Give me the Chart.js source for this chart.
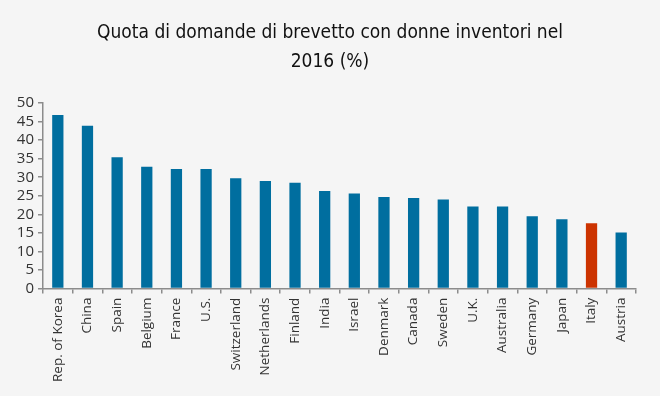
<!DOCTYPE html>
<html><head><meta charset="utf-8">
<script src="https://cdn.jsdelivr.net/npm/chart.js@4/dist/chart.umd.min.js"></script>
<style>html,body{margin:0;padding:0;background:#f5f5f5;}#wrap{width:660px;height:396px;}</style>
</head><body><div id="wrap"><canvas id="c" width="660" height="396"></canvas></div>
<script>
const titleLines = ["Quota di domande di brevetto con donne inventori nel", "2016 (%)"];
const categories = ["Rep. of Korea","China","Spain","Belgium","France","U.S.","Switzerland","Netherlands","Finland","India","Israel","Denmark","Canada","Sweden","U.K.","Australia","Germany","Japan","Italy","Austria"];
const values = [46.8,43.9,35.4,32.8,32.2,32.2,29.7,29.0,28.5,26.3,25.6,24.7,24.4,24.0,22.1,22.1,19.5,18.7,17.6,15.1];
const highlight = "Italy";
const yTicks = [0,5,10,15,20,25,30,35,40,45,50];

const blue = "#006e9f", red = "#cc3300";
const centerTitle = {
  id: 'centerTitle',
  afterLayout(chart) {
    const t = chart.titleBlock;
    if (t) { t.left = 24; t.right = 636; }
  }
};
new Chart(document.getElementById('c'), {
  type: 'bar',
  data: { labels: categories, datasets: [{ data: values,
    backgroundColor: categories.map(c => c === highlight ? red : blue),
    barPercentage: 0.38, categoryPercentage: 1.0 }] },
  plugins: [centerTitle],
  options: {
    responsive: false, animation: false,
    layout: { padding: { left: 2, right: 24, top: 0, bottom: 10 } },
    plugins: {
      legend: { display: false }, tooltip: { enabled: false },
      title: { display: true, text: titleLines, color: '#111',
        font: { family: '"DejaVu Sans Condensed", Lato, sans-serif', size: 19, weight: 'normal', lineHeight: 1.5 },
        padding: { top: 19, bottom: 27 } }
    },
    scales: {
      x: {
        grid: { display: true, drawOnChartArea: false, offset: true, tickLength: 5, color: '#8c8c8c', lineWidth: 1.5 },
        border: { color: '#8c8c8c', width: 1.5 },
        ticks: { color: '#333', font: { family: 'Open Sans', size: 13.5 }, maxRotation: 90, minRotation: 90, padding: 4, autoSkip: false }
      },
      y: {
        min: 0, max: 50,
        afterBuildTicks: s => { s.ticks = yTicks.map(v => ({ value: v })); },
        afterFit: s => { s.width = 41; },
        grid: { display: true, drawOnChartArea: false, tickLength: 5, color: '#8c8c8c', lineWidth: 1.5 },
        border: { color: '#8c8c8c', width: 1.5 },
        ticks: { color: '#333', font: { family: 'Open Sans', size: 15 }, padding: 4, autoSkip: false }
      }
    }
  }
});
</script></body></html>
